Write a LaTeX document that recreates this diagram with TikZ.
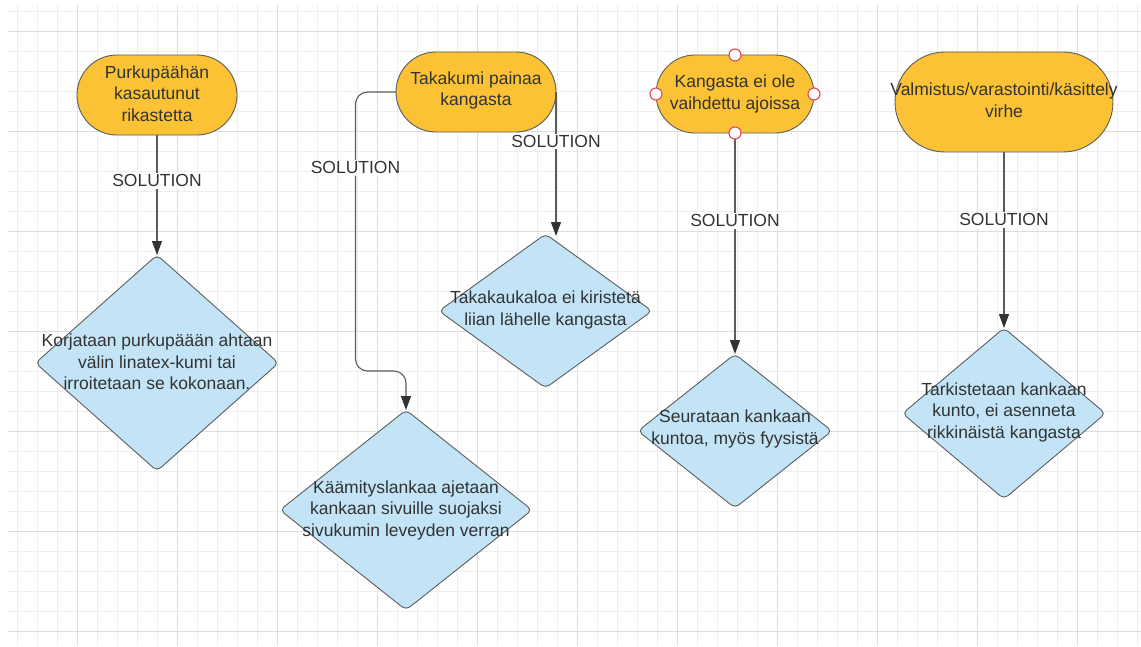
\documentclass[tikz,border=0pt]{standalone}
\usepackage{fontspec}
\setmainfont{Liberation Sans}
\usetikzlibrary{arrows.meta,shapes.geometric}

\definecolor{termfill}{RGB}{251,194,54}
\definecolor{diafill}{RGB}{194,228,246}
\definecolor{edgecol}{RGB}{92,92,92}
\definecolor{ink}{RGB}{51,51,51}
\definecolor{gridminor}{RGB}{238,238,238}
\definecolor{gridmajor}{RGB}{222,222,222}
\definecolor{handle}{RGB}{226,82,96}

\tikzset{
  basefont/.style={font=\fontsize{17.5}{21.5}\selectfont, text=ink},
  terminal/.style={draw=edgecol, fill=termfill, line width=0.9pt,
    rectangle, inner sep=0pt, outer sep=0pt},
  decision/.style={draw=edgecol, fill=diafill, line width=0.9pt,
    diamond, rounded corners=5pt, inner sep=0pt, outer sep=0pt},
  txt/.style={basefont, align=center, inner sep=0pt},
  lbl/.style={basefont, fill=white, inner sep=1.5pt},
  conn/.style={draw=edgecol, line width=1.1pt,
    -{Triangle[length=14pt,width=10pt,color=ink,fill=ink]}},
  handlept/.style={circle, draw=handle, fill=white, line width=1.2pt,
    minimum size=12pt, inner sep=0pt},
}

\begin{document}
\begin{tikzpicture}[x=1pt,y=-1pt]
\useasboundingbox (0,0) rectangle (1141,646);

% background grid
\foreach \x in {17,37,...,1137} \draw[gridminor, line width=0.8pt] (\x,5) -- (\x,646);
\foreach \y in {11,31,...,631} \draw[gridminor, line width=0.8pt] (8,\y) -- (1141,\y);
\foreach \x in {77,177,...,1077} \draw[gridmajor, line width=1pt] (\x,5) -- (\x,646);
\foreach \y in {31,131,...,631} \draw[gridmajor, line width=1pt] (8,\y) -- (1141,\y);

% problems (terminals)
\node[terminal, minimum width=160pt, minimum height=80pt, rounded corners=40pt] (t1) at (157,95) {};
\node[txt] (t1txt) at (157,93.5) {Purkupäähän\\kasautunut\\rikastetta};

\node[terminal, minimum width=160pt, minimum height=80pt, rounded corners=40pt] (t2) at (476,92) {};
\node[txt] (t2txt) at (476,90.5) {Takakumi painaa\\kangasta};

\node[terminal, minimum width=158pt, minimum height=78pt, rounded corners=39pt] (t3) at (735,94) {};
\node[txt] (t3txt) at (735,94) {Kangasta ei ole\\vaihdettu ajoissa};

\node[terminal, minimum width=218pt, minimum height=100pt, rounded corners=50pt] (t4) at (1004,102) {};
\node[txt] (t4txt) at (1004,100) {Valmistus/varastointi/käsittely\\virhe};

% solutions (decisions)
\node[decision, minimum width=243pt, minimum height=216pt] (d1) at (157,363) {};
\node[txt] (d1txt) at (157,362) {Korjataan purkupäään ahtaan\\välin linatex-kumi tai\\irroitetaan se kokonaan.};

\node[decision, minimum width=213pt, minimum height=154pt] (d2) at (545.5,311) {};
\node[txt] (d2txt) at (545.5,310) {Takakaukaloa ei kiristetä\\liian lähelle kangasta};

\node[decision, minimum width=252pt, minimum height=200pt] (d3) at (406,510) {};
\node[txt] (d3txt) at (406,510) {Käämityslankaa ajetaan\\kankaan sivuille suojaksi\\sivukumin leveyden verran};

\node[decision, minimum width=194pt, minimum height=154pt] (d4) at (735,431) {};
\node[txt] (d4txt) at (735,429) {Seurataan kankaan\\kuntoa, myös fyysistä};

\node[decision, minimum width=203pt, minimum height=171pt] (d5) at (1004,413.5) {};
\node[txt] (d5txt) at (1004,412) {Tarkistetaan kankaan\\kunto, ei asenneta\\rikkinäistä kangasta};

% connectors
\draw[conn] (t1.south) -- node[lbl, pos=0.383] {SOLUTION} (d1.north);

\coordinate (b1) at (355.5,92);
\coordinate (b2) at (355.5,371);
\coordinate (b3) at (406,371);
\draw[conn, rounded corners=12pt] (t2.west) -- (b1) -- node[lbl, pos=0.272] {SOLUTION} (b2) -- (b3) -- (d3.north);

\coordinate (e3) at (556,236);
\draw[conn] (t2.east) -- node[lbl, pos=0.342] {SOLUTION} (t2.east |- e3);

\draw[conn] (t3.south) -- node[lbl, pos=0.398] {SOLUTION} (d4.north);

\draw[conn] (t4.south) -- node[lbl, pos=0.386] {SOLUTION} (d5.north);

% selection handles on the third terminal
\node[handlept] (h1) at (t3.north) {};
\node[handlept] (h2) at (t3.south) {};
\node[handlept] (h3) at (t3.west) {};
\node[handlept] (h4) at (t3.east) {};
\end{tikzpicture}
\end{document}
